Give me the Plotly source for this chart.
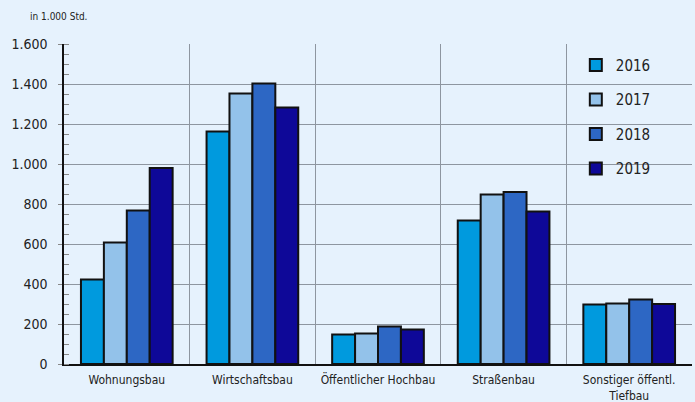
import plotly.graph_objects as go

categories = ["Wohnungsbau", "Wirtschaftsbau", "Öffentlicher Hochbau", "Straßenbau",
              "Sonstiger öffentl.<br>Tiefbau"]
years = ["2016", "2017", "2018", "2019"]
v2016 = [423, 1162, 148, 718, 297]
v2017 = [608, 1353, 152, 848, 303]
v2018 = [768, 1402, 187, 860, 323]
v2019 = [980, 1282, 172, 763, 300]
series = [v2016, v2017, v2018, v2019]
colors = ["#009ADE", "#93C2EA", "#2D67C4", "#0E0898"]

FONT = "DejaVu Sans Condensed, Liberation Sans Narrow, Arial Narrow, sans-serif"
BG = "#E6F2FD"

fig = go.Figure()
for i, (yr, vals) in enumerate(zip(years, series)):
    fig.add_trace(go.Bar(
        x=categories, y=vals, name=yr, legendgroup=yr,
        marker=dict(color=colors[i], line=dict(color="#111111", width=2)),
    ))

fig.update_layout(
    width=695, height=402,
    margin=dict(l=64, r=3, t=44, b=38),
    paper_bgcolor=BG, plot_bgcolor=BG,
    barmode="group", bargap=0.27, bargroupgap=0,
    separators=",.",
    font=dict(family=FONT, color="#222222"),
    showlegend=True,
    legend=dict(x=0.815, y=0.985, xanchor="left", yanchor="top",
                bgcolor="rgba(0,0,0,0)", font=dict(size=15, family=FONT),
                tracegroupgap=12, itemwidth=30),
    xaxis=dict(
        automargin=False,
        tickson="boundaries", showgrid=True, gridcolor="#8E96A0", gridwidth=1,
        ticks="", showline=True, linecolor="#111111", linewidth=1.5,
        tickfont=dict(size=12, family=FONT), ticklabelstandoff=4,
    ),
    yaxis=dict(
        automargin=False,
        range=[0, 1600], dtick=200, tickformat=",",
        showgrid=True, gridcolor="#8E96A0", gridwidth=1,
        showline=True, linecolor="#111111", linewidth=1.5,
        ticks="outside", ticklen=4, tickcolor="#888888",
        ticklabelstandoff=8,
        minor=dict(dtick=50, ticks="inside", ticklen=5, tickcolor="#888888", showgrid=False),
        tickfont=dict(size=14, family=FONT), zeroline=False,
    ),
    annotations=[dict(text="in 1.000 Std.", x=-0.058, y=1.085, xref="paper", yref="paper",
                      xanchor="left", yanchor="middle",
                      showarrow=False, font=dict(size=10, family=FONT))],
)

fig.write_html("out.html", config={"displayModeBar": False},
               post_script="document.body.style.margin='0';document.body.style.padding='0';")
